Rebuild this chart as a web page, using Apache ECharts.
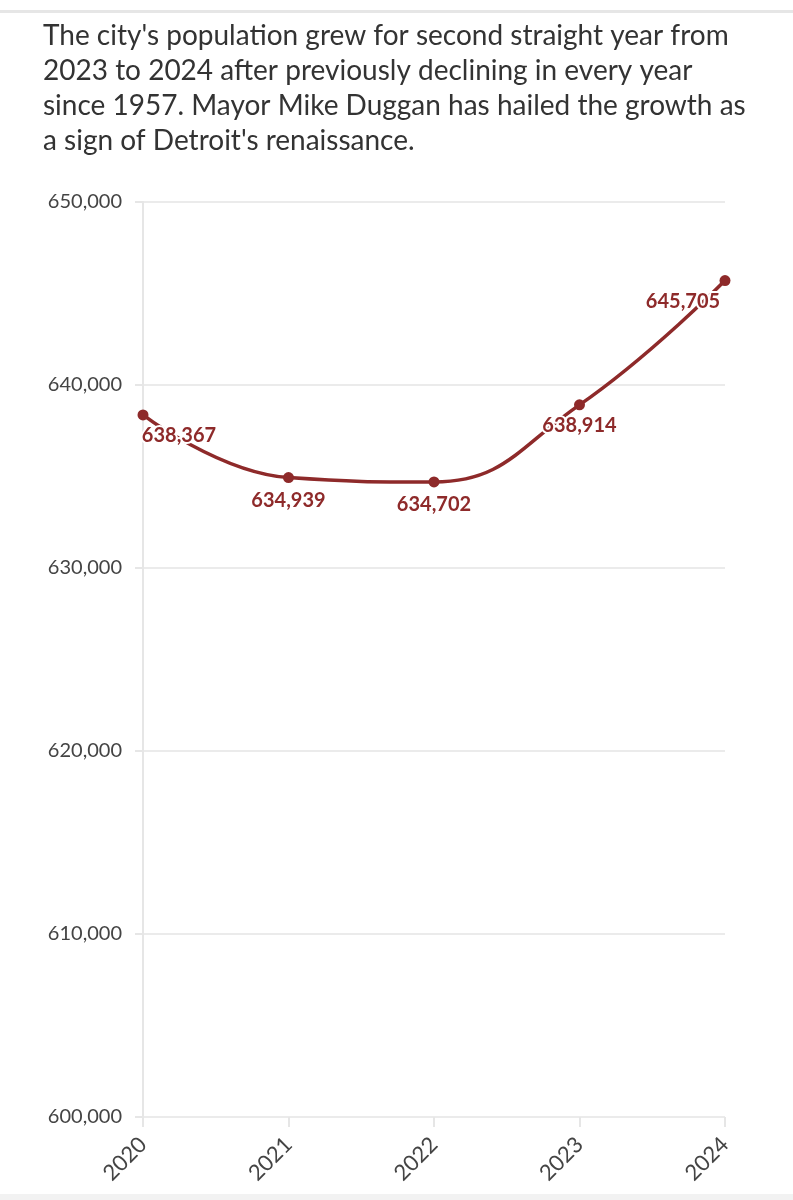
<!DOCTYPE html>
<html>
<head>
<meta charset="utf-8">
<script src="https://cdn.jsdelivr.net/npm/echarts@6/dist/echarts.min.js"></script>
<style>
  html, body { margin: 0; padding: 0; background: #fff; }
  #chart { width: 793px; height: 1200px; }
</style>
</head>
<body>
<div id="chart"></div>
<script>
var years = ['2020', '2021', '2022', '2023', '2024'];
var population = [638367, 634939, 634702, 638914, 645705];
var yTicks = [600000, 610000, 620000, 630000, 640000, 650000];
var titleLines = [
  "The city's population grew for second straight year from",
  "2023 to 2024 after previously declining in every year",
  "since 1957. Mayor Mike Duggan has hailed the growth as",
  "a sign of Detroit's renaissance."
];

var lineColor = '#8e2a2a';
// label placement per point (position, offset)
var labelPlaces = [
  { position: 'bottom', offset: [36, 0] },
  { position: 'bottom', offset: [0, 2] },
  { position: 'bottom', offset: [0, 2] },
  { position: 'bottom', offset: [0, 0] },
  { position: 'bottom', offset: [-42, 0] }
];

var chart = echarts.init(document.getElementById('chart'));
var option = {
  backgroundColor: '#fff',
  animation: false,
  textStyle: { fontFamily: 'Lato' },
  graphic: [
    { type: 'rect', shape: { x: 0, y: 10, width: 793, height: 3 }, style: { fill: '#e6e6e6' } },
    { type: 'rect', shape: { x: 0, y: 1194, width: 793, height: 6 }, style: { fill: '#f2f2f2' } },
    {
      type: 'text', left: 43, top: 18,
      style: {
        text: titleLines.join('\n'),
        fontFamily: 'Lato', fontSize: 28, lineHeight: 35, fill: '#333'
      }
    }
  ],
  grid: { left: 143, right: 68, top: 202, bottom: 83 },
  xAxis: {
    type: 'category',
    data: years,
    boundaryGap: false,
    axisLine: { show: false },
    axisTick: { show: true, alignWithLabel: true, length: 10, lineStyle: { color: '#e6e6e6', width: 2 } },
    axisLabel: { rotate: 45, color: '#444', fontSize: 22, margin: 24 },
    splitLine: { show: false }
  },
  yAxis: {
    type: 'value',
    min: yTicks[0],
    max: yTicks[yTicks.length - 1],
    interval: 10000,
    axisLine: { show: true, lineStyle: { color: '#e6e6e6', width: 2 } },
    axisTick: { show: true, length: 8, lineStyle: { color: '#e6e6e6', width: 2 } },
    axisLabel: {
      color: '#444', fontSize: 20, margin: 21,
      formatter: function (v) { return v.toLocaleString('en-US'); }
    },
    splitLine: { show: true, lineStyle: { color: '#ebebeb', width: 2 } }
  },
  series: [{
    type: 'line',
    smooth: 0.45,
    symbol: 'circle',
    symbolSize: 11,
    itemStyle: { color: lineColor },
    lineStyle: { color: lineColor, width: 3.5 },
    data: population.map(function (v, i) {
      return {
        value: v,
        label: {
          show: true,
          position: labelPlaces[i].position,
          offset: labelPlaces[i].offset,
          color: lineColor,
          fontSize: 20,
          fontWeight: 'bold',
          textBorderColor: '#fff',
          textBorderWidth: 4,
          formatter: function (p) { return p.value.toLocaleString('en-US'); }
        }
      };
    })
  }]
};
chart.setOption(option);
</script>
</body>
</html>
